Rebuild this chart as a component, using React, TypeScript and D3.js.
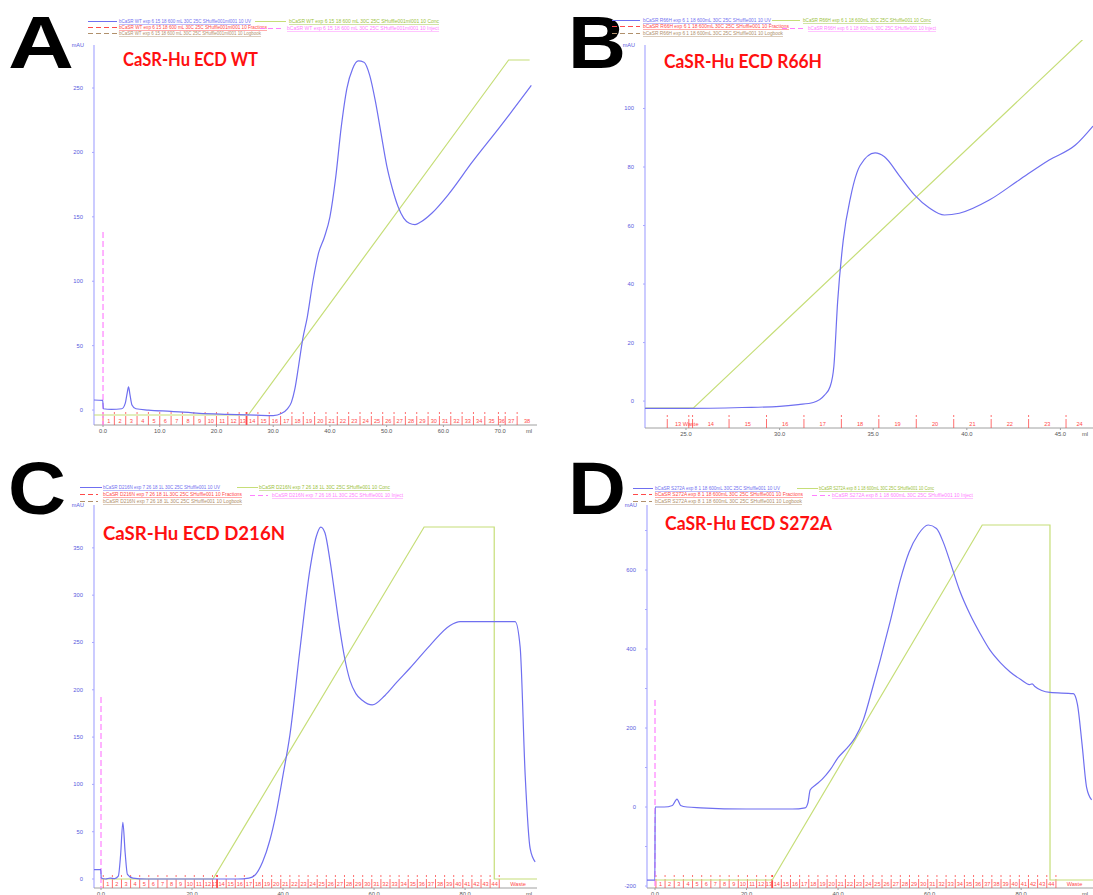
import React from 'react';
import * as d3 from 'd3';

type Pt = [number, number];
type Frac = [string, number];

// ---------- A : WT ----------
const uvWT: Pt[] = [
  [-1.6, 7.8], [-0.05, 7.5], [0.05, 1], [1.5, 0.5], [3.3, 1], [3.9, 5], [4.25, 13], [4.5, 18],
  [4.75, 12], [5.1, 4], [5.8, 1], [8, 0], [12, -1], [17, -2.5], [22, -3.3], [27, -4], [30, -4.3],
  [31.5, -2.5], [32.5, 1], [33.2, 6], [33.8, 16], [34.5, 35], [35.2, 55], [36, 72], [37, 100],
  [38, 122], [39, 134], [40, 150], [41, 180], [42, 220], [43, 250], [44, 265], [45, 271], [46, 270],
  [47, 260], [48, 240], [49, 215], [50, 190], [51, 172], [52, 158], [53, 149], [54, 145], [55, 144],
  [56, 146], [58, 153], [61, 168], [65, 192], [70, 220], [75.5, 252],
];
const concWT: Pt[] = [[-1.6, 0], [25.6, 0], [71.5, 100], [75.2, 100]];
const fracWT: Frac[] = [
  ['1', 0], ['2', 2], ['3', 4], ['4', 6], ['5', 8], ['6', 10], ['7', 12], ['8', 14], ['9', 16],
  ['10', 18], ['11', 20], ['12', 22], ['13', 24], ['14', 25.3], ['15', 27.3], ['16', 29.3],
  ['17', 31.3], ['18', 33.3], ['19', 35.3], ['20', 37.3], ['21', 39.3], ['22', 41.3], ['23', 43.3],
  ['24', 45.3], ['25', 47.3], ['26', 49.3], ['27', 51.3], ['28', 53.3], ['29', 55.3], ['30', 57.3],
  ['31', 59.3], ['32', 61.3], ['33', 63.3], ['34', 65.3], ['35', 67.3], ['36', 69.7], ['37', 70.9],
  ['38', 73],
];
const fracWTEnd = 77;
const xTicksWT = [0, 10, 20, 30, 40, 50, 60, 70];
const yTicksWT = [0, 50, 100, 150, 200, 250];
const runWT = 'bCaSR WT exp 6 15 18 600 mL 30C 25C SHuffle001ml001 10';

// ---------- B : R66H ----------
const uvR66H: Pt[] = [
  [22.8, -2.5], [25, -2.5], [28, -2.2], [30, -1.8], [31, -1.2], [31.8, -0.5], [32.4, 2], [32.7, 5],
  [32.9, 12], [33.1, 34], [33.4, 55], [33.8, 70], [34.3, 80.5], [35.1, 84.8], [35.6, 83.5],
  [36.4, 77], [37.2, 70.5], [38, 66], [38.8, 63.6], [39.6, 64.2], [41.2, 68.7], [42.8, 75.6],
  [44.4, 82.4], [45.8, 87.5], [46.74, 94],
];
const concR66H: Pt[] = [[22.8, 0], [25.4, 0], [46.74, 46.4]];
const fracR66H: Frac[] = [
  ['13', 24], ['Waste', 25.15], ['14', 25.35], ['15', 27.3], ['16', 29.3], ['17', 31.3], ['18', 33.3],
  ['19', 35.3], ['20', 37.3], ['21', 39.3], ['22', 41.3], ['23', 43.3], ['24', 45.3],
];
const fracR66HEnd = 47.3;
const xTicksR66H = [25, 30, 35, 40, 45];
const yTicksR66H = [0, 20, 40, 60, 80, 100];
const runR66H = 'bCaSR R66H exp 6 1 18 600mL 30C 25C SHuffle001 10';

// ---------- C : D216N ----------
const uvD216N: Pt[] = [
  [-1.54, 10], [-0.05, 10], [0.05, 1], [1, 0], [2, 1], [3, 0.5], [3.8, 3], [4.3, 25], [4.8, 60],
  [5.3, 28], [5.8, 5], [7, 1], [10, 0], [20, 0], [30, 0], [32.5, 1], [33.8, 4], [35.5, 18],
  [37.1, 41], [38.5, 70], [40, 110], [41.5, 152], [43.7, 242], [45.9, 327], [47.3, 362], [48.3, 372],
  [49.2, 366], [50.3, 337], [51.4, 300], [52.5, 263], [53.6, 232], [54.7, 210], [56, 196],
  [57.4, 189], [59.6, 184], [62.4, 194], [65, 208], [67.9, 223], [72.3, 247], [76.7, 268],
  [78.9, 272], [85, 272], [91, 272], [92.1, 245], [93.2, 110], [94.3, 32], [95.4, 18],
];
const concD216N: Pt[] = [[0, 0], [24.6, 0], [71, 100], [86.4, 100], [86.41, 0], [95.8, 0]];
const fracD216N: Frac[] = [
  ['1', 0.5], ['2', 2.5], ['3', 4.5], ['4', 6.5], ['5', 8.5], ['6', 10.5], ['7', 12.5], ['8', 14.5],
  ['9', 16.5], ['10', 18.5], ['11', 20.5], ['12', 22.5], ['13', 24.5], ['14', 25.5], ['15', 27.5],
  ['16', 29.5], ['17', 31.5], ['18', 33.5], ['19', 35.5], ['20', 37.5], ['21', 39.5], ['22', 41.5],
  ['23', 43.5], ['24', 45.5], ['25', 47.5], ['26', 49.5], ['27', 51.5], ['28', 53.5], ['29', 55.5],
  ['30', 57.5], ['31', 59.5], ['32', 61.5], ['33', 63.5], ['34', 65.5], ['35', 67.5], ['36', 69.5],
  ['37', 71.5], ['38', 73.5], ['39', 75.5], ['40', 77.5], ['41', 79.5], ['42', 81.5], ['43', 83.5],
  ['44', 85.5], ['Waste', 87.5],
];
const fracD216NEnd = 95.8;
const xTicksD216N = [0, 20, 40, 60, 80];
const yTicksD216N = [0, 50, 100, 150, 200, 250, 300, 350];
const runD216N = 'bCaSR D216N exp 7 26 18 1L 30C 25C SHuffle001 10';

// ---------- D : S272A ----------
const uvS272A: Pt[] = [
  [-1.75, -185], [-0.03, -185], [0.03, 0], [2, 0], [3.8, 4], [4.8, 20], [5.6, 4], [7, 0], [10, -2],
  [20, -5], [30, -5], [32.8, -2], [33.4, 10], [33.9, 43], [35, 55], [36.5, 70], [38.25, 94],
  [40, 125], [42, 150], [43.7, 175], [45.5, 220], [47.5, 300], [49.2, 372], [51.5, 475], [53.6, 575],
  [55.5, 645], [57.5, 690], [59.7, 714], [61.5, 705], [63, 670], [64.5, 620], [66.5, 550],
  [68.9, 486], [71, 440], [73.2, 397], [75.5, 365], [77.6, 342], [80, 322], [81.8, 310],
  [82.4, 312], [83, 305], [84.5, 295], [86.3, 290], [91.4, 287], [92.3, 260], [93.3, 160],
  [94.3, 50], [95.4, 18],
];
const concS272A: Pt[] = [[0, 0], [25.6, 0], [71.5, 100], [86.3, 100], [86.31, 0], [95.7, 0]];
const fracS272A: Frac[] = [
  ['1', 0.2], ['2', 2.2], ['3', 4.2], ['4', 6.2], ['5', 8.2], ['6', 10.2], ['7', 12.2], ['8', 14.2],
  ['9', 16.2], ['10', 18.2], ['11', 20.2], ['12', 22.2], ['13', 24.2], ['14', 25.6], ['15', 27.6],
  ['16', 29.6], ['17', 31.6], ['18', 33.6], ['19', 35.6], ['20', 37.6], ['21', 39.6], ['22', 41.6],
  ['23', 43.6], ['24', 45.6], ['25', 47.6], ['26', 49.6], ['27', 51.6], ['28', 53.6], ['29', 55.6],
  ['30', 57.6], ['31', 59.6], ['32', 61.6], ['33', 63.6], ['34', 65.6], ['35', 67.6], ['36', 69.6],
  ['37', 71.6], ['38', 73.6], ['39', 75.6], ['40', 77.6], ['41', 79.6], ['42', 81.6], ['43', 83.6],
  ['44', 85.6], ['Waste', 87.6],
];
const fracS272AEnd = 95.7;
const xTicksS272A = [0, 20, 40, 60, 80];
const yTicksS272A = [-200, 0, 200, 400, 600];
const yMinorS272A = [-100, 100, 300, 500, 700];
const runS272A = 'bCaSR S272A exp 8 1 18 600mL 30C 25C SHuffle001 10';

const legendSuffix = ['UV', 'Conc', 'Fractions', 'Inject', 'Logbook'];

// ---------- styling ----------
const C_UV = '#6f6ff0';
const C_YAXIS = '#a9a9ff';
const C_YLAB = '#5a5ae0';
const C_CONC = '#c6de78';
const C_FRAC = '#ff4a4a';
const C_INJ = '#ff80ff';
const C_LOG = '#b0906c';
const LEG_COL = [C_UV, C_CONC, C_FRAC, C_INJ, C_LOG];
const LEG_DASH = [undefined, undefined, '5 3', '5 3', '5 3'];

// legend layout: [lineX1, lineX2, textX, baselineY, textLength]
type LegRow = [number, number, number, number, number];

interface PanelSpec {
  letter: string;
  letterX: number;
  letterY: number;
  title: string;
  titleX: number;
  titleY: number;
  titleW: number;
  run: string;
  legend: LegRow[];
  box: { l: number; r: number; t: number; b: number };
  xDom: [number, number];
  yDom: [number, number];
  concRange: [number, number];
  xTicks: number[];
  yTicks: number[];
  yMinor: number[];
  uv: Pt[];
  conc: Pt[];
  frac: Frac[];
  fracEnd: number;
  thick: string;
  injectTop: number | null;
}

const panels: PanelSpec[] = [
  {
    letter: 'A', letterX: 8, letterY: 68,
    title: 'CaSR-Hu ECD WT', titleX: 123, titleY: 66, titleW: 135,
    run: runWT,
    legend: [[88, 117, 119, 23, 132], [255, 286, 289, 23, 150], [88, 117, 119, 29, 148], [260, 284, 287, 30, 152], [88, 117, 119, 35, 142]],
    box: { l: 94, r: 537, t: 45, b: 425 },
    xDom: [-1.59, 76.5], yDom: [-11.6, 283.4], concRange: [415, 60],
    xTicks: xTicksWT, yTicks: yTicksWT, yMinor: [],
    uv: uvWT, conc: concWT, frac: fracWT, fracEnd: fracWTEnd, thick: '14', injectTop: 232,
  },
  {
    letter: 'B', letterX: 568, letterY: 68,
    title: 'CaSR-Hu ECD R66H', titleX: 664, titleY: 68, titleW: 158,
    run: runR66H,
    legend: [[612, 640, 643, 22, 128], [772, 800, 803, 22, 128], [612, 640, 643, 28, 146], [782, 805, 808, 30, 128], [612, 640, 643, 35, 140]],
    box: { l: 645, r: 1093, t: 45, b: 428 },
    xDom: [22.81, 46.74], yDom: [-9.2, 121.7], concRange: [408, -407],
    xTicks: xTicksR66H, yTicks: yTicksR66H, yMinor: [],
    uv: uvR66H, conc: concR66H, frac: fracR66H, fracEnd: fracR66HEnd, thick: '', injectTop: null,
  },
  {
    letter: 'C', letterX: 8, letterY: 514,
    title: 'CaSR-Hu ECD D216N', titleX: 103, titleY: 540, titleW: 182,
    run: runD216N,
    legend: [[80, 102, 103, 489, 117], [237, 258, 259, 489, 131], [80, 98, 103, 496, 139], [250, 268, 272, 497, 131], [80, 98, 103, 503, 139]],
    box: { l: 94, r: 537, t: 505, b: 888 },
    xDom: [-1.54, 95.8], yDom: [-9.5, 395.3], concRange: [879, 527],
    xTicks: xTicksD216N, yTicks: yTicksD216N, yMinor: [],
    uv: uvD216N, conc: concD216N, frac: fracD216N, fracEnd: fracD216NEnd, thick: '14', injectTop: 697,
  },
  {
    letter: 'D', letterX: 568, letterY: 514,
    title: 'CaSR-Hu ECD S272A', titleX: 665, titleY: 530, titleW: 167,
    run: runS272A,
    legend: [[633, 653, 655, 490, 125], [797, 818, 819, 490, 115], [633, 652, 655, 496, 148], [812, 830, 832, 497, 141], [633, 652, 655, 503, 147]],
    box: { l: 647, r: 1093, t: 505, b: 888 },
    xDom: [-1.75, 95.7], yDom: [-205, 764.6], concRange: [880, 525],
    xTicks: xTicksS272A, yTicks: yTicksS272A, yMinor: yMinorS272A,
    uv: uvS272A, conc: concS272A, frac: fracS272A, fracEnd: fracS272AEnd, thick: '14', injectTop: 700,
  },
];

const SANS = '"Liberation Sans", Arial, sans-serif';

function Panel({ s }: { s: PanelSpec }) {
  const { l, r, t, b } = s.box;
  const x = d3.scaleLinear().domain(s.xDom).range([l, r]);
  const y = d3.scaleLinear().domain(s.yDom).range([b, t]);
  const yc = d3.scaleLinear().domain([0, 100]).range(s.concRange);

  const uvPath = d3.line<Pt>().x(d => x(d[0])).y(d => y(d[1])).curve(d3.curveMonotoneX)(s.uv) || '';
  const concPath = d3.line<Pt>().x(d => x(d[0])).y(d => yc(d[1]))(s.conc) || '';
  const clipId = `clip-${s.letter}`;

  const fr = s.frac.map((f, i) => ({
    label: f[0],
    start: f[1],
    end: i < s.frac.length - 1 ? s.frac[i + 1][1] : s.fracEnd,
  }));

  return (
    <g>
      <defs>
        <clipPath id={clipId}>
          <rect x={l} y={t - 5} width={r - l} height={b - t + 5} />
        </clipPath>
      </defs>

      {/* panel letter */}
      <text x={s.letterX} y={s.letterY} fontFamily={SANS} fontWeight={700} fontSize={74}
        fill="#000" textLength={s.letter === 'A' ? 66 : 58} lengthAdjust="spacingAndGlyphs">{s.letter}</text>

      {/* legend */}
      {s.legend.map((row, i) => (
        <g key={i}>
          <line x1={row[0]} x2={row[1]} y1={row[3] - 1.5} y2={row[3] - 1.5} stroke={LEG_COL[i]}
            strokeWidth={1} strokeDasharray={LEG_DASH[i]} />
          <text x={row[2]} y={row[3]} fontFamily={SANS} fontSize={4.6} fill={LEG_COL[i] === C_CONC ? '#9cbf3c' : LEG_COL[i]}
            textLength={row[4]} lengthAdjust="spacingAndGlyphs" textDecoration="underline">
            {`${s.run} ${legendSuffix[i]}`}
          </text>
        </g>
      ))}

      {/* y axis */}
      <line x1={l} x2={l} y1={t} y2={b} stroke={C_YAXIS} strokeWidth={1.2} />
      <text x={l - 10} y={t + 2} fontFamily={SANS} fontSize={5.5} fill={C_YLAB} textAnchor="end">mAU</text>
      {s.yTicks.map(v => (
        <g key={v}>
          <line x1={l - 2} x2={l} y1={y(v)} y2={y(v)} stroke={C_YAXIS} />
          <text x={l - 11} y={y(v) + 2} fontFamily={SANS} fontSize={5.8} fill={C_YLAB} textAnchor="end">{v}</text>
        </g>
      ))}
      {s.yMinor.map(v => (
        <line key={v} x1={l - 2} x2={l} y1={y(v)} y2={y(v)} stroke={C_YAXIS} />
      ))}

      {/* x axis */}
      <line x1={l} x2={r} y1={b} y2={b} stroke="#a0a0a0" strokeWidth={1} />
      {s.xTicks.map(v => (
        <g key={v}>
          <line x1={x(v)} x2={x(v)} y1={b} y2={b + 2} stroke="#a0a0a0" />
          <text x={x(v)} y={b + 7.5} fontFamily={SANS} fontSize={5.8} fill="#555" textAnchor="middle">{v.toFixed(1)}</text>
        </g>
      ))}
      <text x={r - 8} y={b + 7.5} fontFamily={SANS} fontSize={5.8} fill="#555" textAnchor="middle">ml</text>

      <g clipPath={`url(#${clipId})`}>
        {/* fractions */}
        {fr.map(f => (
          <g key={f.label + f.start}>
            <line x1={x(f.start)} x2={x(f.start)} y1={b} y2={b - 14} stroke={C_FRAC}
              strokeWidth={f.label === s.thick ? 1.8 : 0.8} strokeDasharray="9 2 2 8" />
            <text x={(x(f.start) + x(Math.min(f.end, s.xDom[1]))) / 2} y={b - 2.5} fontFamily={SANS}
              fontSize={5.6} fill={C_FRAC} textAnchor="middle">{f.label}</text>
          </g>
        ))}

        {/* inject */}
        {s.injectTop !== null && (
          <line x1={x(0)} x2={x(0)} y1={s.injectTop} y2={b} stroke={C_INJ} strokeWidth={1.2} strokeDasharray="6 3" />
        )}

        {/* conc */}
        <path d={concPath} fill="none" stroke={C_CONC} strokeWidth={1.2} />

        {/* UV */}
        <path d={uvPath} fill="none" stroke={C_UV} strokeWidth={1.2} />
      </g>

      {/* title */}
      <text x={s.titleX} y={s.titleY} fontFamily="Lato, 'Open Sans', sans-serif" fontWeight={700} fontSize={18}
        fill="#ff1010" textLength={s.titleW} lengthAdjust="spacingAndGlyphs">{s.title}</text>
    </g>
  );
}

export default function App() {
  return (
    <svg width={1093} height={895} viewBox="0 0 1093 895"
      style={{ position: 'absolute', left: 0, top: 0, background: '#fff' }}>
      <rect x={0} y={0} width={1093} height={895} fill="#fff" />
      {panels.map(p => <Panel key={p.letter} s={p} />)}
    </svg>
  );
}
